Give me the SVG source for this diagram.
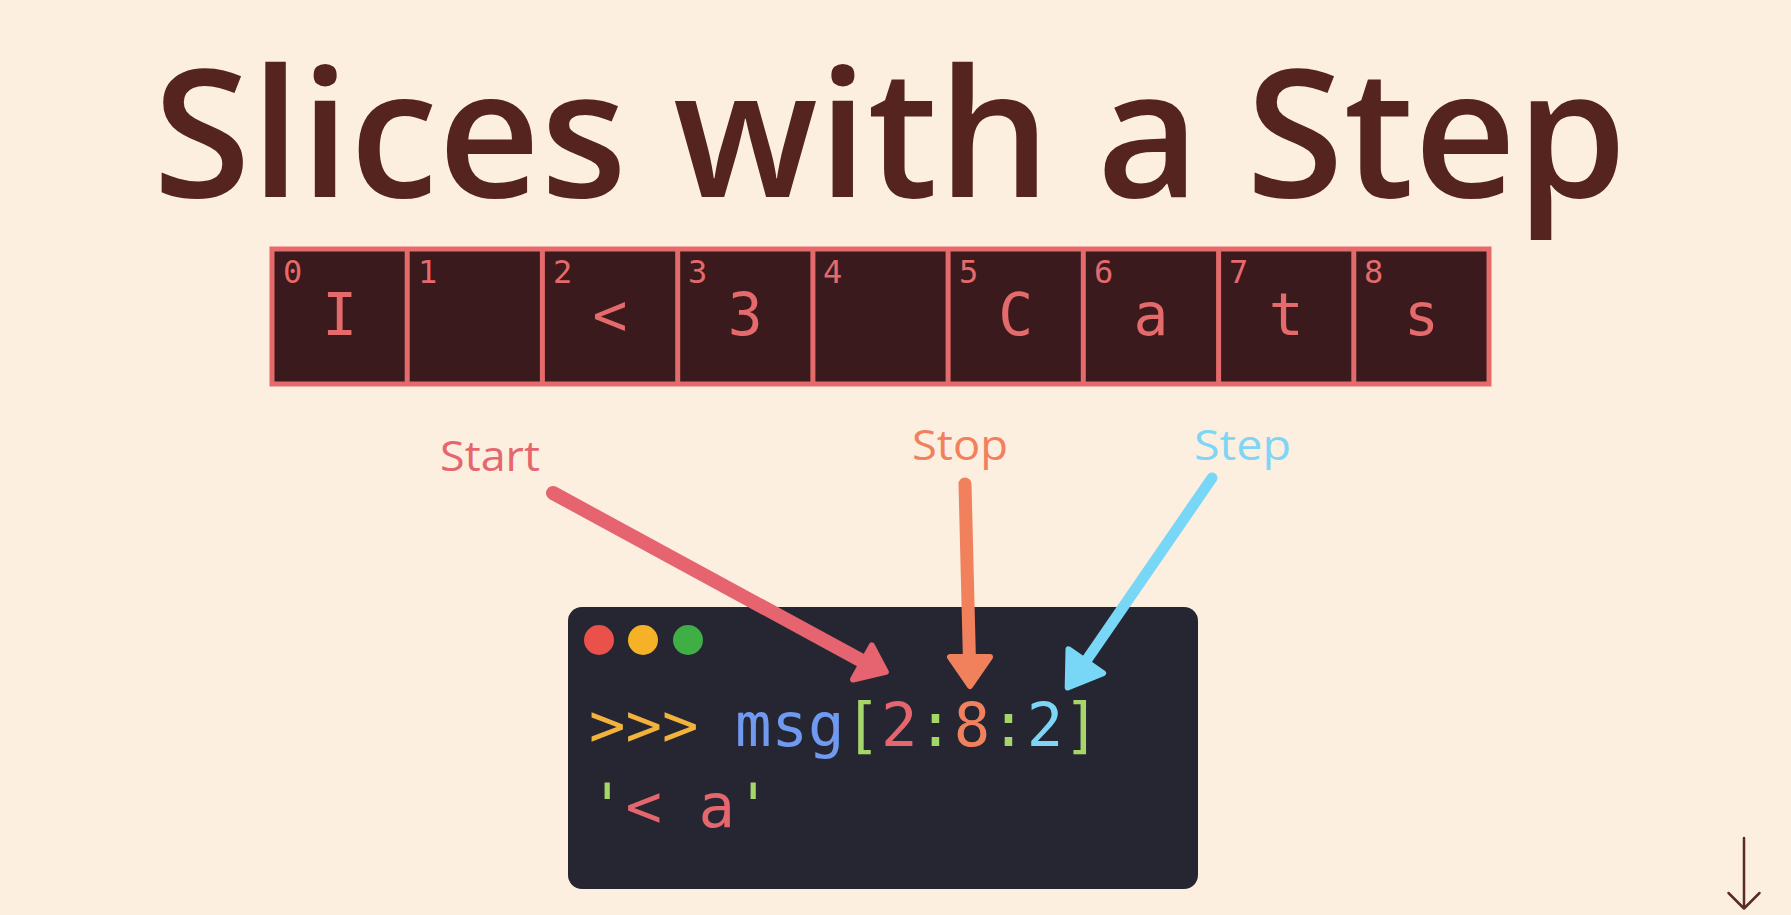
<svg xmlns="http://www.w3.org/2000/svg" width="1791" height="915" viewBox="0 0 1791 915">
  <style>
    .title { font-family: "Open Sans", "Liberation Sans", Arial, sans-serif; font-weight: 600; font-size: 178px; fill: #55241f; }
    .cell { fill: #3a1a1c; }
    .grid { fill: none; stroke: #e56a6c; stroke-width: 5; }
    .idx { font-family: "DejaVu Sans Mono", monospace; font-size: 32px; fill: #e56a6c; }
    .ch { font-family: "DejaVu Sans Mono", monospace; font-size: 58px; fill: #e56a6c; text-anchor: middle; }
    .label { font-family: "Open Sans", "Noto Sans", sans-serif; font-size: 42px; }
    .code { font-family: "DejaVu Sans Mono", monospace; font-size: 60.6px; }
    .shaft { fill: none; stroke-linecap: round; }
    .head { stroke-width: 6; stroke-linejoin: round; }
  </style>

  <rect width="1791" height="915" fill="#fcefdf"/>

  <g id="title">
    <text class="title" x="153" y="197" textLength="1474" lengthAdjust="spacingAndGlyphs">Slices with a Step</text>
  </g>

  <!-- string "I <3 Cats" laid out as indexed cells -->
  <g id="string-cells">
    <rect class="cell" x="272" y="249" width="1217" height="135"/>
    <rect class="grid" x="272" y="249" width="1217" height="135"/>
    <path class="grid" d="M407.2 249V384M542.4 249V384M677.7 249V384M812.9 249V384M948.1 249V384M1083.3 249V384M1218.6 249V384M1353.8 249V384"/>
    <g id="cell-0"><text class="idx" x="283" y="283">0</text><text class="ch" x="339.6" y="335">I</text></g>
    <g id="cell-1"><text class="idx" x="418" y="283">1</text></g>
    <g id="cell-2"><text class="idx" x="553" y="283">2</text><text class="ch" x="610" y="335">&lt;</text></g>
    <g id="cell-3"><text class="idx" x="688" y="283">3</text><text class="ch" x="745.3" y="335">3</text></g>
    <g id="cell-4"><text class="idx" x="823" y="283">4</text></g>
    <g id="cell-5"><text class="idx" x="959" y="283">5</text><text class="ch" x="1015.7" y="335">C</text></g>
    <g id="cell-6"><text class="idx" x="1094" y="283">6</text><text class="ch" x="1151" y="335">a</text></g>
    <g id="cell-7"><text class="idx" x="1229" y="283">7</text><text class="ch" x="1286.2" y="335">t</text></g>
    <g id="cell-8"><text class="idx" x="1364" y="283">8</text><text class="ch" x="1421.4" y="335">s</text></g>
  </g>

  <g id="label-start"><text class="label" x="440" y="471" fill="#e5666d" textLength="100" lengthAdjust="spacingAndGlyphs">Start</text></g>
  <g id="label-stop"><text class="label" x="912" y="460" fill="#f1805c" textLength="96" lengthAdjust="spacingAndGlyphs">Stop</text></g>
  <g id="label-step"><text class="label" x="1194" y="460" fill="#7dd6f6" textLength="97" lengthAdjust="spacingAndGlyphs">Step</text></g>

  <g id="terminal">
    <rect x="568" y="607" width="630" height="282" rx="14" fill="#262633"/>
    <circle cx="599" cy="640" r="15" fill="#e9514a"/>
    <circle cx="643" cy="640" r="15" fill="#f5b226"/>
    <circle cx="688" cy="640" r="15" fill="#3fae44"/>
    <text class="code" x="589" y="746" xml:space="preserve"><tspan fill="#f2b33d">&gt;&gt;&gt;</tspan><tspan fill="#6f9af0"> msg</tspan><tspan fill="#a6d66a">[</tspan><tspan fill="#e5666d">2</tspan><tspan fill="#a6d66a">:</tspan><tspan fill="#f1805c">8</tspan><tspan fill="#a6d66a">:</tspan><tspan fill="#7dd6f6">2</tspan><tspan fill="#a6d66a">]</tspan></text>
    <text class="code" x="589" y="827" xml:space="preserve"><tspan fill="#a6d66a">'</tspan><tspan fill="#e5666d">&lt; a</tspan><tspan fill="#a6d66a">'</tspan></text>
  </g>

  <g id="connectors">
    <g id="arrow-start">
      <line class="shaft" x1="553" y1="493" x2="864" y2="662" stroke="#e5646f" stroke-width="14"/>
      <polygon class="head" points="871.8,645.5 885.8,671.8 853,679.5" fill="#e5646f" stroke="#e5646f"/>
    </g>
    <g id="arrow-stop">
      <line class="shaft" x1="965" y1="484" x2="969.5" y2="662" stroke="#f1805c" stroke-width="13"/>
      <polygon class="head" points="950,657 990,657 970,686" fill="#f1805c" stroke="#f1805c"/>
    </g>
    <g id="arrow-step">
      <line class="shaft" x1="1212" y1="478" x2="1086" y2="661" stroke="#78d6f7" stroke-width="11"/>
      <polygon class="head" points="1067.7,687.5 1068.5,649.3 1103.1,673.1" fill="#78d6f7" stroke="#78d6f7"/>
    </g>
  </g>

  <!-- scroll hint -->
  <g id="scroll-hint" fill="none" stroke="#5a2a28" stroke-width="2.5" stroke-linecap="round" stroke-linejoin="round">
    <path d="M1744 838V908M1728.5 893L1744 908.5L1759.5 893"/>
  </g>
</svg>
